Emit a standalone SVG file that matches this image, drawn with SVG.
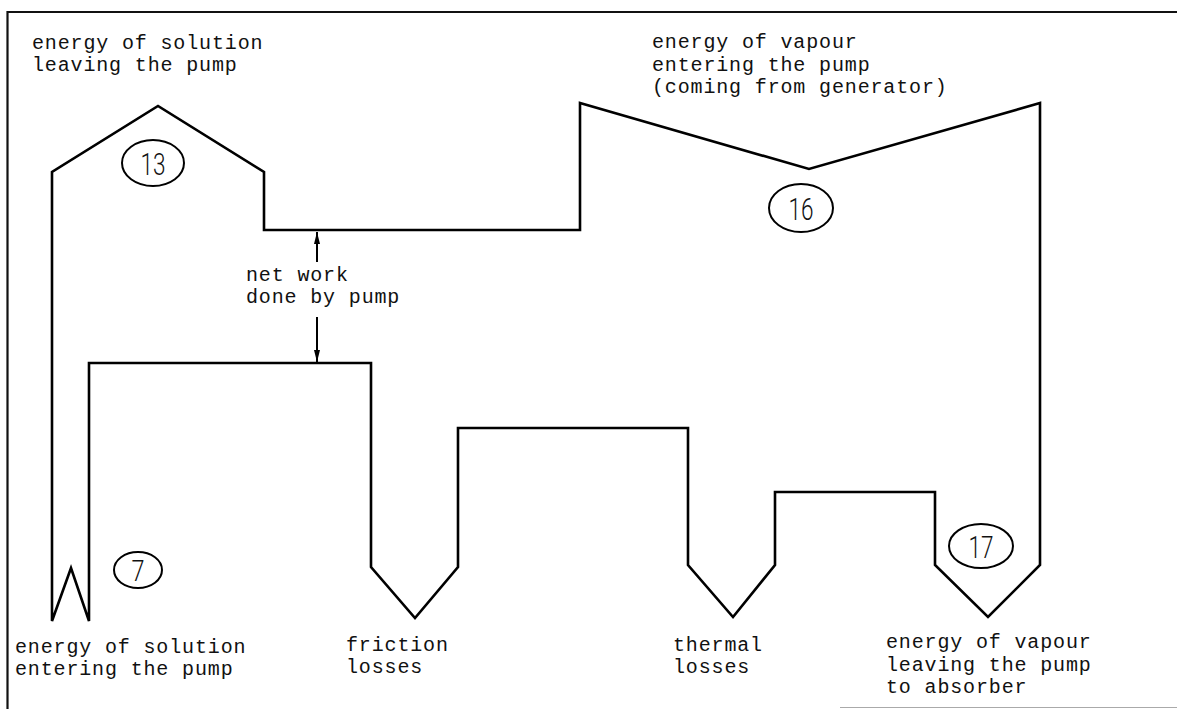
<svg xmlns="http://www.w3.org/2000/svg" width="1177" height="709" viewBox="0 0 1177 709">
  <defs>
    <style>
      .frame { fill: none; stroke: #111; stroke-width: 2.2; }
      .outline { fill: none; stroke: #000; stroke-width: 2.6; stroke-linejoin: miter; }
      .tag { fill: none; stroke: #000; stroke-width: 2; }
      .num { font-family: Roboto, "Liberation Sans", Arial, sans-serif; font-weight: 300; fill: #111; text-anchor: middle; }
      .lbl { font-family: "Liberation Mono", "Courier New", monospace; font-size: 20px; letter-spacing: 0.85px; fill: #111; }
      .conn { stroke: #000; stroke-width: 2; fill: none; }
    </style>
    <marker id="arrow" viewBox="0 0 12 6" refX="12" refY="3" markerWidth="12" markerHeight="6" markerUnits="userSpaceOnUse" orient="auto">
      <path d="M0,0 L12,3 L0,6 Z" fill="#000"/>
    </marker>
  </defs>
  <rect x="0" y="0" width="1177" height="709" fill="#fff"/>

  <g id="frame">
    <path class="frame" d="M7.5,709 L7.5,12 L1177,12"/>
    <path d="M840,707.5 L1177,707.5" stroke="#aaa" stroke-width="1.2" fill="none"/>
  </g>

  <g id="energy-flow">
    <polygon class="outline" points="52,621 52,172 158,106 264,172 264,230 580,230 580,103 809,169 1040,103 1040,565 988,617 935,565 935,492 775,492 775,565 733,617 688,565 688,428 458,428 458,567 415,618 371,567 371,363 89,363 89,621 71,568"/>
  </g>

  <g id="node-13">
    <ellipse class="tag" cx="153" cy="163" rx="31" ry="23"/>
    <text class="num" x="153" y="175" font-size="32" textLength="25" lengthAdjust="spacingAndGlyphs">13</text>
  </g>
  <g id="node-16">
    <ellipse class="tag" cx="801" cy="208" rx="32" ry="24"/>
    <text class="num" x="801" y="220" font-size="32" textLength="25" lengthAdjust="spacingAndGlyphs">16</text>
  </g>
  <g id="node-17">
    <ellipse class="tag" cx="981" cy="546" rx="32" ry="22"/>
    <text class="num" x="981" y="558" font-size="32" textLength="25" lengthAdjust="spacingAndGlyphs">17</text>
  </g>
  <g id="node-7">
    <ellipse class="tag" cx="138" cy="570" rx="24" ry="18"/>
    <text class="num" x="138" y="581" font-size="30" textLength="13" lengthAdjust="spacingAndGlyphs">7</text>
  </g>

  <g id="label-solution-leaving">
    <text class="lbl" x="32" y="49">energy of solution</text>
    <text class="lbl" x="32" y="71">leaving the pump</text>
  </g>
  <g id="label-vapour-entering">
    <text class="lbl" x="652" y="48">energy of vapour</text>
    <text class="lbl" x="652" y="71">entering the pump</text>
    <text class="lbl" x="652" y="93">(coming from generator)</text>
  </g>
  <g id="label-net-work">
    <text class="lbl" x="246" y="281">net work</text>
    <text class="lbl" x="246" y="303">done by pump</text>
  </g>
  <g id="label-solution-entering">
    <text class="lbl" x="15" y="653">energy of solution</text>
    <text class="lbl" x="15" y="675">entering the pump</text>
  </g>
  <g id="label-friction">
    <text class="lbl" x="346" y="651">friction</text>
    <text class="lbl" x="346" y="673">losses</text>
  </g>
  <g id="label-thermal">
    <text class="lbl" x="673" y="651">thermal</text>
    <text class="lbl" x="673" y="673">losses</text>
  </g>
  <g id="label-vapour-leaving">
    <text class="lbl" x="886" y="648">energy of vapour</text>
    <text class="lbl" x="886" y="671">leaving the pump</text>
    <text class="lbl" x="886" y="693">to absorber</text>
  </g>

  <g id="connectors">
    <path class="conn" d="M317,262 L317,232" marker-end="url(#arrow)"/>
    <path class="conn" d="M317,317 L317,362" marker-end="url(#arrow)"/>
  </g>
</svg>
